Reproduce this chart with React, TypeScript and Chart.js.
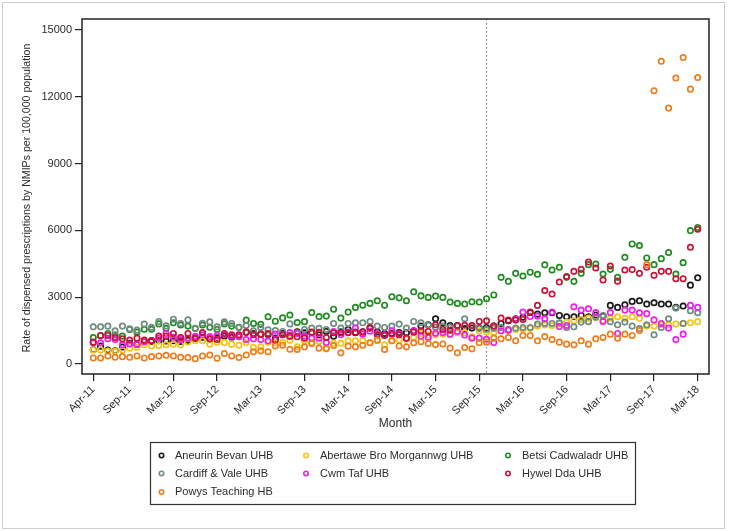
import React, { useEffect, useRef } from "react";
import { Chart, registerables } from "chart.js";

Chart.register(...registerables);

// ---------- data ----------
const MONTH_TICKS = [0, 5, 11, 17, 23, 29, 35, 41, 47, 53, 59, 65, 71, 77, 83];
const MONTH_TICK_LABELS = [
  "Apr-11", "Sep-11", "Mar-12", "Sep-12", "Mar-13", "Sep-13", "Mar-14", "Sep-14",
  "Mar-15", "Sep-15", "Mar-16", "Sep-16", "Mar-17", "Sep-17", "Mar-18",
];
const Y_TICKS = [0, 3000, 6000, 9000, 12000, 15000];
const INTERVENTION_MONTH = 54;

const SERIES_NAMES = [
  "Aneurin Bevan UHB",
  "Abertawe Bro Morgannwg UHB",
  "Betsi Cadwaladr UHB",
  "Cardiff & Vale UHB",
  "Cwm Taf UHB",
  "Hywel Dda UHB",
  "Powys Teaching HB",
];
const SERIES_COLORS = ["#1a1a1a", "#f5c216", "#1f8c1f", "#6e8c80", "#f01cf0", "#cc1236", "#ee7d1c"];

const aneurinBevan = [
  640, 800, 630, 590, 760, 930, 880, 1000, 1010, 1040, 1030, 1040, 1010, 1060,
  1150, 1200, 1120, 1180, 1250, 1200, 1230, 1430, 1370, 1340, 1320, 1160, 1370, 1260, 1440, 1400,
  1400, 1310, 1460, 1250, 1440, 1550, 1400, 1450, 1610, 1450, 1370, 1370, 1410, 1400, 1490, 1700,
  1760, 2030, 1850, 1730, 1730, 1590, 1610, 1610, 1640, 1700, 1820, 1940, 2030, 2100, 2310, 2240,
  2300, 2300, 2180, 2120, 2120, 2180, 2120, 2200, 2150, 2630, 2540, 2660, 2810, 2840, 2690, 2750,
  2690, 2690, 2540, 2600, 3540, 3870,
];
const abertaweBro = [
  630, 630, 580, 570, 630, 710, 750, 860, 810, 830, 860, 890, 860, 990,
  1040, 1040, 890, 980, 960, 890, 840, 960, 740, 770, 980, 950, 960, 1070, 770, 1040,
  960, 1010, 720, 930, 930, 1040, 1040, 1040, 950, 1040, 860, 1040, 1080, 1120, 1200, 1370,
  1300, 1310, 1350, 1340, 1400, 1400, 1220, 1490, 1450, 1400, 1480, 1520, 1550, 1560, 1600, 1700,
  1750, 1730, 1800, 1880, 1940, 2000, 2060, 2090, 1950, 2050, 2120, 2050, 2120, 2050, 1700, 1700,
  1760, 1760, 1790, 1820, 1850, 1900,
];
const betsiCadwaladr = [
  1190, 1270, 1370, 1300, 1250, 1550, 1430, 1560, 1560, 1800, 1600, 1850, 1750, 1700,
  1600, 1750, 1650, 1550, 1800, 1700, 1650, 1970, 1820, 1780, 2120, 1920, 2070, 2200, 1860, 1900,
  2310, 2130, 2150, 2460, 2060, 2330, 2540, 2640, 2720, 2840, 2640, 3020, 2970, 2840, 3240, 3060,
  2990, 3050, 2990, 2780, 2720, 2690, 2790, 2780, 2930, 3100, 3890, 3710, 4070, 3950, 4120, 4030,
  4450, 4220, 4340, 3890, 3710, 4070, 4460, 4490, 4040, 4250, 3890, 4790, 5390, 5320, 4760, 4460,
  4730, 5000, 4040, 4550, 5990, 6130,
];
const cardiffVale = [
  1670, 1670, 1700, 1490, 1700, 1580, 1520, 1790, 1650, 1910, 1710, 2010, 1820, 1980,
  1590, 1830, 1890, 1670, 1890, 1820, 1640, 1730, 1490, 1640, 1530, 1500, 1460, 1800, 1400, 1550,
  1610, 1600, 1550, 1820, 1610, 1820, 1850, 1850, 1910, 1700, 1640, 1700, 1790, 1610, 1910, 1850,
  1740, 1650, 1700, 1640, 1700, 2030, 1700, 1640, 1560, 1600, 1640, 1550, 1610, 1640, 1640, 1790,
  1820, 1820, 1850, 1640, 1670, 1880, 1900, 2100, 2180, 1900, 1760, 1880, 1700, 1590, 1760, 1310,
  1640, 2030, 2510, 1820, 2390, 2300,
];
const cwmTaf = [
  950, 950, 1130, 1100, 860, 900, 880, 1000, 1050, 1150, 1370, 1200, 1100, 1150,
  1240, 1310, 1230, 1280, 1320, 1250, 1230, 1100, 1130, 1100, 1040, 1340, 1310, 1410, 1370, 1250,
  1160, 1160, 960, 1460, 1310, 1430, 1610, 1340, 1470, 1370, 1300, 1490, 1350, 1160, 1490, 1250,
  1190, 1380, 1410, 1340, 1460, 1300, 1160, 1160, 1110, 960, 1490, 1520, 2010, 2330, 2130, 2150,
  2030, 2330, 1680, 1730, 2570, 2420, 2480, 2310, 1910, 2310, 1370, 2420, 2420, 2300, 2260, 1980,
  1820, 1610, 1100, 1340, 2630, 2540,
];
const hywelDda = [
  980, 1280, 1280, 1190, 1130, 1070, 1160, 1070, 1050, 1250, 1250, 1370, 1190, 1370,
  1160, 1410, 1130, 1100, 1370, 1310, 1310, 1430, 1310, 1340, 1370, 1070, 1310, 1250, 1220, 1160,
  1430, 1420, 1190, 1400, 1400, 1400, 1430, 1430, 1640, 1310, 1280, 1340, 1310, 1160, 1430, 1490,
  1460, 1760, 1550, 1520, 1730, 1740, 1730, 1910, 1940, 1700, 2060, 1970, 1970, 2000, 2330, 2630,
  3300, 3140, 3680, 3930, 4160, 4250, 4580, 4310, 3770, 4400, 3720, 4220, 4240, 4070, 4340, 3980,
  4160, 4160, 3830, 3830, 5240, 6050,
];
const powysTeaching = [
  270, 270, 360, 300, 330, 300, 360, 270, 330, 360, 390, 360, 300, 290,
  240, 360, 400, 260, 470, 360, 290, 400, 550, 590, 550, 810, 840, 660, 650, 770,
  920, 710, 680, 830, 500, 800, 770, 840, 950, 1080, 650, 1040, 810, 770, 950, 1000,
  920, 870, 900, 710, 500, 740, 680, 960, 980, 1160, 1130, 1190, 1040, 1280, 1280, 1040,
  1230, 1100, 980, 890, 860, 1040, 890, 1130, 1190, 1340, 1160, 1340, 1280, 1500, 4460, 12270,
  13590, 11490, 12840, 13760, 12340, 12860,
];
const SERIES_VALUES = [aneurinBevan, abertaweBro, betsiCadwaladr, cardiffVale, cwmTaf, hywelDda, powysTeaching];

const X_TITLE = "Month";
const Y_TITLE = "Rate of dispensed prescriptions by NMIPs per 100,000 population";

// ---------- styling ----------
const FONT = '"Liberation Sans", Arial, Helvetica, sans-serif';
const TEXT = "#2b2b2b";
const W = 729;
const H = 531;

const decorPlugin = {
  id: "decor",
  beforeDraw(chart: any) {
    const ctx = chart.ctx;
    ctx.save();
    ctx.fillStyle = "#ffffff";
    ctx.fillRect(0, 0, W, H);
    ctx.strokeStyle = "#cfcfcf";
    ctx.lineWidth = 1;
    ctx.strokeRect(2.5, 2.5, 722, 526);
    ctx.restore();
  },
  beforeDatasetsDraw(chart: any) {
    const { ctx, chartArea, scales } = chart;
    const x = Math.round(scales.x.getPixelForValue(INTERVENTION_MONTH)) - 0.5;
    ctx.save();
    ctx.strokeStyle = "#8a8a8a";
    ctx.lineWidth = 1.2;
    ctx.setLineDash([1.5, 2.5]);
    ctx.beginPath();
    ctx.moveTo(x, chartArea.top);
    ctx.lineTo(x, chartArea.bottom);
    ctx.stroke();
    ctx.restore();
  },
  afterDraw(chart: any) {
    const { ctx, chartArea } = chart;
    ctx.save();
    // plot frame
    ctx.strokeStyle = "#222222";
    ctx.lineWidth = 1.5;
    ctx.strokeRect(chartArea.left, chartArea.top, chartArea.right - chartArea.left, chartArea.bottom - chartArea.top);

    // axis titles
    ctx.fillStyle = TEXT;
    ctx.font = `12px ${FONT}`;
    ctx.textAlign = "center";
    ctx.textBaseline = "middle";
    ctx.fillText(X_TITLE, (chartArea.left + chartArea.right) / 2, 424);
    ctx.save();
    ctx.font = `10.6px ${FONT}`;
    ctx.translate(27, 198);
    ctx.rotate(-Math.PI / 2);
    ctx.fillText(Y_TITLE, 0, 0);
    ctx.restore();

    // legend
    ctx.strokeStyle = "#333333";
    ctx.lineWidth = 1.2;
    ctx.strokeRect(150.5, 442.5, 485, 62);
    const colMarker = [161.5, 306, 508];
    const colText = [175, 320, 522];
    const rowY = [455.5, 473.5, 492];
    ctx.textAlign = "left";
    ctx.font = `11px ${FONT}`;
    SERIES_NAMES.forEach((name, i) => {
      const c = i % 3;
      const r = Math.floor(i / 3);
      ctx.beginPath();
      ctx.strokeStyle = SERIES_COLORS[i];
      ctx.lineWidth = 1.6;
      ctx.arc(colMarker[c], rowY[r], 2.2, 0, Math.PI * 2);
      ctx.stroke();
      ctx.fillStyle = TEXT;
      ctx.fillText(name, colText[c], rowY[r]);
    });
    ctx.restore();
  },
};

export default function App() {
  const ref = useRef<HTMLCanvasElement>(null);

  useEffect(() => {
    document.body.style.margin = "0";
    const canvas = ref.current;
    if (!canvas) return;

    const datasets = SERIES_NAMES.map((name, idx) => ({
      label: name,
      data: SERIES_VALUES[idx].map((v, i) => ({ x: i, y: v })),
      borderColor: SERIES_COLORS[idx],
      backgroundColor: "rgba(255,255,255,0)",
      pointRadius: 2.7,
      pointBorderWidth: 1.7,
      pointStyle: "circle",
      showLine: false,
      order: SERIES_NAMES.length - idx,
    }));

    const tickGrid = {
      display: true,
      drawOnChartArea: false,
      drawTicks: true,
      tickLength: 7,
      color: "#222222",
      tickColor: "#222222",
      lineWidth: 1.2,
    };

    const chart = new Chart(canvas, {
      type: "scatter",
      data: { datasets },
      plugins: [decorPlugin],
      options: {
        responsive: false,
        animation: false,
        devicePixelRatio: 1,
        layout: { padding: { top: 19, right: 20, left: 0, bottom: 0 } },
        plugins: {
          legend: { display: false },
          tooltip: { enabled: false },
          title: { display: false },
        },
        scales: {
          x: {
            type: "linear",
            position: "bottom",
            min: -1.55,
            max: 84.55,
            grid: tickGrid,
            border: { display: false },
            afterBuildTicks: (s: any) => {
              s.ticks = MONTH_TICKS.map((v) => ({ value: v }));
            },
            afterFit: (s: any) => {
              s.height = 157;
            },
            ticks: {
              autoSkip: false,
              minRotation: 45,
              maxRotation: 45,
              padding: 2,
              color: TEXT,
              font: { size: 11, family: FONT },
              callback: (_v: any, i: number) => MONTH_TICK_LABELS[i],
            },
          },
          y: {
            type: "linear",
            min: -450,
            max: 15490,
            grid: tickGrid,
            border: { display: false },
            afterBuildTicks: (s: any) => {
              s.ticks = Y_TICKS.map((v) => ({ value: v }));
            },
            afterFit: (s: any) => {
              s.width = 82;
            },
            ticks: {
              padding: 3,
              color: TEXT,
              font: { size: 11, family: FONT },
              callback: (v: any) => String(v),
            },
          },
        },
      } as any,
    });

    return () => chart.destroy();
  }, []);

  return (
    <div style={{ position: "relative", width: W, height: H }}>
      <canvas ref={ref} width={W} height={H} style={{ display: "block", width: W, height: H }} />
    </div>
  );
}
